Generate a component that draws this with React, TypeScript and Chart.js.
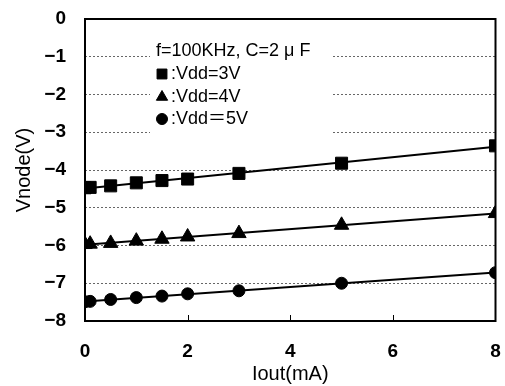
import React, { useEffect, useRef } from "react";
import { Chart, registerables } from "chart.js";
import { drawPoint } from "chart.js/helpers";

Chart.register(...registerables);

const iout = [0, 0.1, 0.5, 1, 1.5, 2, 3, 5, 8];
const vdd3 = [-4.47, -4.46, -4.42, -4.34, -4.28, -4.24, -4.09, -3.82, -3.36];
const vdd4 = [-5.97, -5.96, -5.94, -5.88, -5.83, -5.77, -5.68, -5.46, -5.15];
const vdd5 = [-7.49, -7.48, -7.43, -7.38, -7.34, -7.28, -7.2, -7.0, -6.72];
const legendTitle = "f=100KHz, C=2 μ F";
const legendLabels = [":Vdd=3V", ":Vdd=4V", ":Vdd＝5V"];
const legendStyles = ["rect", "triangle", "circle"];
const xTitle = "Iout(mA)";
const yTitle = "Vnode(V)";

const FONT = "'Liberation Sans', Arial, 'Noto Sans CJK JP', sans-serif";

function fit(xs: number[], ys: number[]) {
  const n = xs.length;
  const mx = xs.reduce((a, b) => a + b, 0) / n;
  const my = ys.reduce((a, b) => a + b, 0) / n;
  let sxy = 0, sxx = 0;
  for (let i = 0; i < n; i++) {
    sxy += (xs[i] - mx) * (ys[i] - my);
    sxx += (xs[i] - mx) * (xs[i] - mx);
  }
  const b = sxy / sxx;
  const a = my - b * mx;
  const x0 = Math.min(...xs), x1 = Math.max(...xs);
  return [{ x: x0, y: a + b * x0 }, { x: x1, y: a + b * x1 }];
}

const pts = (ys: number[]) => iout.map((x, i) => ({ x, y: ys[i] }));

const framePlugin = {
  id: "frame",
  beforeDatasetsDraw(chart: any) {
    const { ctx } = chart;
    ctx.save();
    ctx.fillStyle = "#fff";
    ctx.fillRect(150, 31, 182, 104);
    ctx.fillStyle = "#000";
    ctx.strokeStyle = "#000";
    ctx.lineWidth = 1;
    ctx.font = `18px ${FONT}`;
    ctx.textBaseline = "middle";
    ctx.textAlign = "left";
    ctx.fillText(legendTitle, 156, 51);
    const ys = [74, 97, 119];
    const radii = [7, 6.5, 5.5];
    legendLabels.forEach((t, i) => {
      drawPoint(ctx, { pointStyle: legendStyles[i], radius: radii[i], rotation: 0, borderWidth: 1 } as any, 162, ys[i]);
      ctx.fillText(t, 171, ys[i]);
    });
    ctx.restore();
  },
  afterDraw(chart: any) {
    const { ctx, chartArea: a, scales } = chart;
    ctx.save();
    ctx.strokeStyle = "#000";
    ctx.lineWidth = 1;
    [2, 4, 6].forEach((v) => {
      const px = Math.round(scales.x.getPixelForValue(v)) + 0.5;
      ctx.beginPath();
      ctx.moveTo(px, a.bottom);
      ctx.lineTo(px, a.bottom - 6);
      ctx.stroke();
    });
    ctx.lineWidth = 2;
    ctx.strokeRect(a.left, a.top, a.right - a.left, a.bottom - a.top);
    ctx.restore();
  },
};

const zeroPad = (s: any) => {
  s.paddingTop = 0;
  s.paddingBottom = 0;
  s.paddingLeft = 0;
  s.paddingRight = 0;
};

export default function App() {
  const ref = useRef<HTMLCanvasElement>(null);
  useEffect(() => {
    const common = {
      showLine: false,
      backgroundColor: "#000",
      borderColor: "#000",
      borderWidth: 1,
    };
    const lineDs = (ys: number[]) => ({
      data: fit(iout, ys),
      showLine: true,
      borderColor: "#000",
      borderWidth: 2,
      pointRadius: 0,
      order: 2,
    });
    const chart = new Chart(ref.current!, {
      type: "scatter",
      data: {
        datasets: [
          lineDs(vdd3),
          lineDs(vdd4),
          lineDs(vdd5),
          { ...common, data: pts(vdd3), pointStyle: "rect", pointRadius: 8.5, order: 1 },
          { ...common, data: pts(vdd4), pointStyle: "triangle", pointRadius: 8.3, order: 1 },
          { ...common, data: pts(vdd5), pointStyle: "circle", pointRadius: 6, order: 1 },
        ] as any,
      },
      options: {
        animation: false,
        responsive: false,
        events: [],
        layout: { padding: { top: 19, right: 8, left: 0, bottom: 0 } },
        plugins: { legend: { display: false }, tooltip: { enabled: false } },
        scales: {
          x: {
            type: "linear",
            min: 0,
            max: 8,
            afterFit: (s: any) => { s.height = 65; zeroPad(s); },
            ticks: {
              stepSize: 2,
              color: "#000",
              font: { family: FONT, size: 19, weight: "bold" },
              padding: 19,
              maxRotation: 0,
            },
            grid: { display: false, drawTicks: false },
            border: { display: false },
            title: {
              display: true,
              text: xTitle,
              color: "#000",
              font: { family: FONT, size: 20 },
              padding: { top: 0, bottom: 0 },
            },
          },
          y: {
            type: "linear",
            min: -8,
            max: 0,
            afterFit: (s: any) => { s.width = 85; zeroPad(s); },
            ticks: {
              stepSize: 1,
              color: "#000",
              font: { family: FONT, size: 19, weight: "bold" },
              padding: 19,
              callback: (v: any) => (v < 0 ? "−" + Math.abs(v) : String(v)),
            },
            grid: {
              drawTicks: false,
              color: (c: any) => (c.tick && (c.tick.value === 0 || c.tick.value === -8) ? "rgba(0,0,0,0)" : "#666"),
              lineWidth: 1,
            },
            border: { display: false, dash: [2, 2] },
            title: {
              display: true,
              text: yTitle,
              color: "#000",
              font: { family: FONT, size: 20 },
              padding: { top: 12, bottom: 0 },
            },
          },
        },
      } as any,
      plugins: [framePlugin],
    });
    return () => chart.destroy();
  }, []);
  return (
    <div style={{ position: "fixed", left: 0, top: 0, width: 505, height: 386, background: "#fff" }}>
      <canvas ref={ref} width={505} height={386} style={{ display: "block" }} />
    </div>
  );
}
